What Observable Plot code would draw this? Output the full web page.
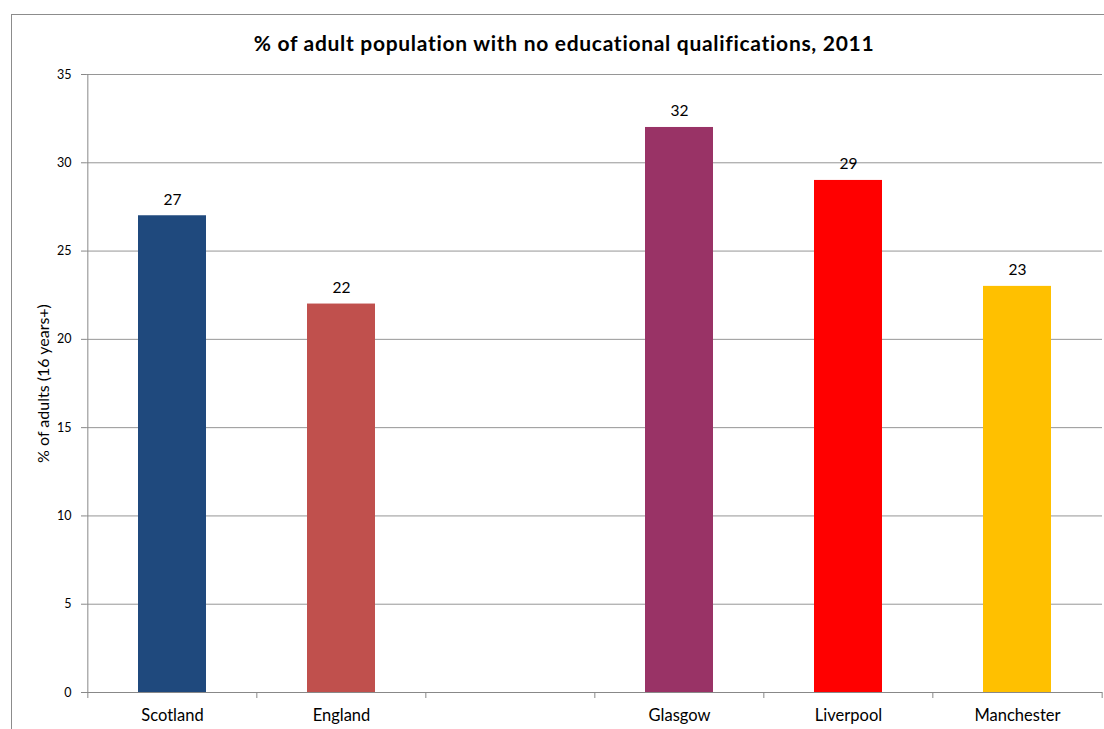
<!DOCTYPE html>
<html><head><meta charset="utf-8">
<script src="https://cdn.jsdelivr.net/npm/d3@7"></script>
<script src="https://cdn.jsdelivr.net/npm/@observablehq/plot@0.6"></script>
<style>
body{margin:0;background:#fff;font-family:Lato,sans-serif}
#wrap{position:relative;width:1104px;height:729px;overflow:hidden}
#frame{position:absolute;left:11px;top:14px;width:1200px;height:800px;border-top:1px solid #8c8c8c;border-left:1px solid #8c8c8c}
#title{position:absolute;top:30px;left:0;width:1128px;text-align:center;font-weight:bold;font-size:21px;letter-spacing:0.7px;color:#000}
#wrap svg{position:absolute;left:0;top:0}
</style></head><body>
<div id="wrap"><div id="frame"></div><div id="title">% of adult population with no educational qualifications, 2011</div></div>
<script>
const categories = ["Scotland", "England", " ", "Glasgow", "Liverpool", "Manchester"];
const places = ["Scotland", "England", "Glasgow", "Liverpool", "Manchester"];
const values = [27, 22, 32, 29, 23];
const colors = ["#1F497D", "#C0504D", "#993366", "#FF0000", "#FFC000"];
const yTicks = [0, 5, 10, 15, 20, 25, 30, 35];
const yLabel = "% of adults (16 years+)";

const data = places.map((p, i) => ({place: p, value: values[i], color: colors[i]}));
const W = 1104, H = 729, mL = 86, mR = 2, mT = 74, mB = 37;
const step = (W - mL - mR) / categories.length;

const chart = Plot.plot({
  width: W, height: H, marginLeft: mL, marginRight: mR, marginTop: mT, marginBottom: mB,
  style: {fontFamily: "Lato, sans-serif", background: "transparent", color: "#000"},
  x: {domain: categories, paddingInner: 0.6, paddingOuter: 0.3, label: null},
  y: {domain: [0, 35], label: null},
  color: {type: "identity"},
  marks: [
    Plot.gridY(yTicks, {stroke: "#969696", strokeOpacity: 1}),
    Plot.barY(data, {x: "place", y: "value", fill: "color"}),
    Plot.ruleY([0], {stroke: "#888"}),
    Plot.ruleX([categories[0]], {dx: -step / 2, stroke: "#888"}),
    Plot.ruleX(categories, {x: d => d, dx: -step / 2, y1: 0, y2: -0.34, stroke: "#888"}),
    Plot.ruleX([categories[categories.length - 1]], {dx: step / 2, y1: 0, y2: -0.34, stroke: "#888"}),
    Plot.axisY(yTicks, {tickSize: 5, tickPadding: 10, fontSize: 12.5, stroke: "#888", label: null}),
    Plot.text([yLabel], {frameAnchor: "left", textAnchor: "middle", dx: -43, rotate: -90, fontSize: 16, text: d => d}),
    Plot.axisX({tickSize: 0, tickPadding: 17, fontSize: 16.5, tickFormat: d => d.trim()}),
    Plot.text(data, {x: "place", y: "value", text: d => String(d.value), dy: -11, lineAnchor: "bottom", fontSize: 15.5})
  ]
});
document.getElementById("wrap").appendChild(chart);
</script>
</body></html>
